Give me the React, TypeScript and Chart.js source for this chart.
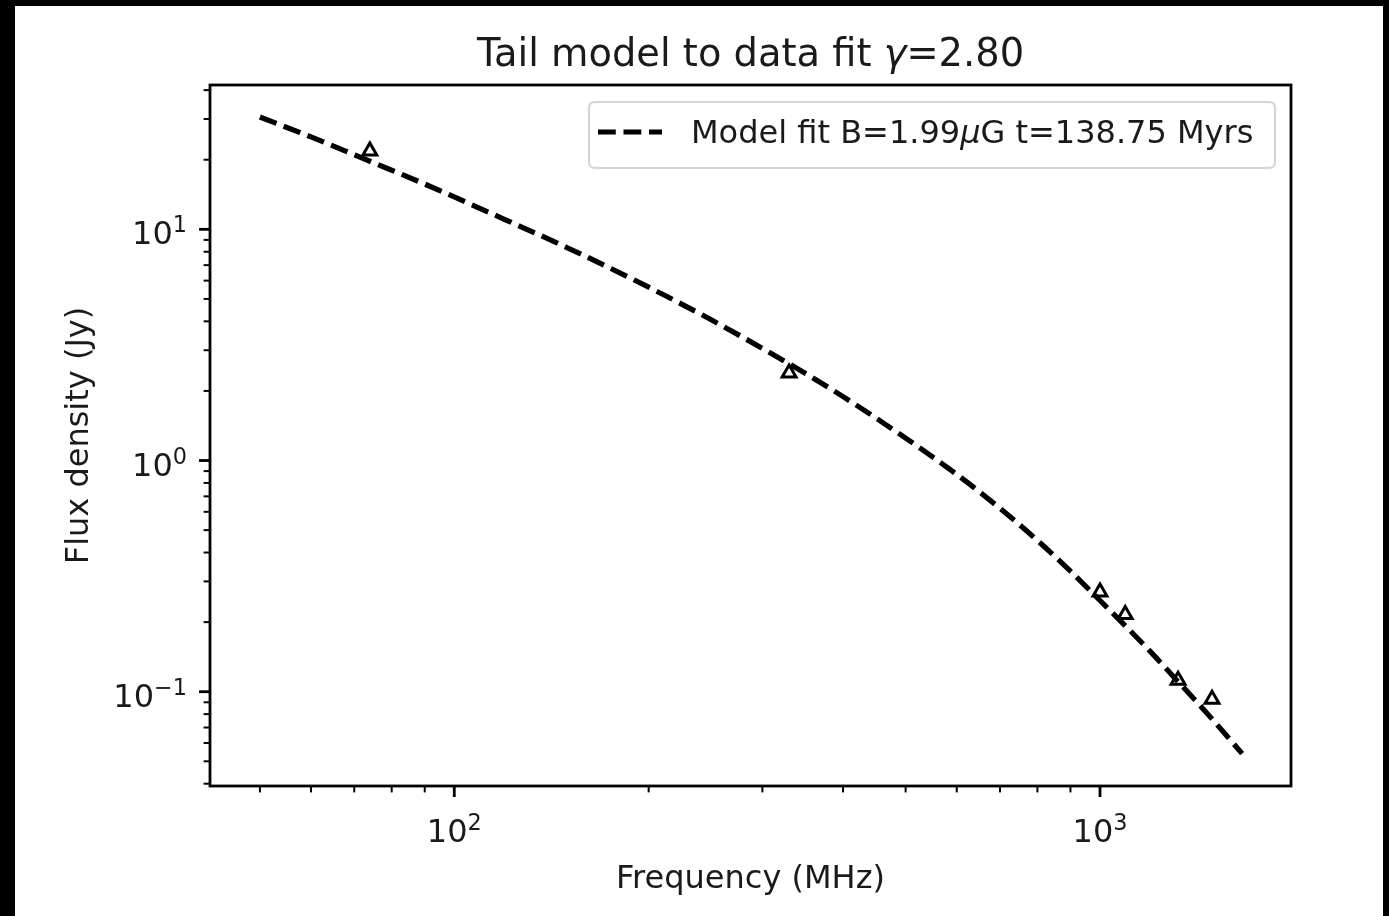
import React, { useEffect, useRef } from 'react';
import { Chart, registerables } from 'chart.js';

Chart.register(...registerables);

// ---- data ----
const modelFreq = [50, 60, 74, 90, 100, 120, 150, 200, 250, 330, 400, 500, 600, 700, 800, 900, 1000, 1100, 1200, 1300, 1400, 1500, 1600, 1660];
const modelFlux = [30.6, 25.1, 19.7, 15.7, 13.8, 11.0, 8.30, 5.62, 4.06, 2.62, 1.89, 1.25, 0.871, 0.621, 0.451, 0.332, 0.248, 0.190, 0.148, 0.116, 0.0927, 0.0748, 0.0608, 0.0540];

const obsFreq = [74, 330, 1000, 1094, 1321, 1491];
const obsFlux = [21.8, 2.39, 0.270, 0.216, 0.112, 0.0928];

const xLimits = [41.85, 1976];
const yLimits = [0.0391, 42.1];

const xMajorTicks = [100, 1000];
const xMinorTicks = [50, 60, 70, 80, 90, 200, 300, 400, 500, 600, 700, 800, 900];
const yMajorTicks = [0.1, 1, 10];
const yMinorTicks = [0.04, 0.05, 0.06, 0.07, 0.08, 0.09, 0.2, 0.3, 0.4, 0.5, 0.6, 0.7, 0.8, 0.9, 2, 3, 4, 5, 6, 7, 8, 9, 20, 30, 40];

const titleParts = [
  { text: 'Tail model to data fit ', italic: false },
  { text: 'γ', italic: true },
  { text: '=2.80', italic: false },
];
const legendParts = [
  { text: 'Model fit B=1.99', italic: false },
  { text: 'μ', italic: true },
  { text: 'G t=138.75 Myrs', italic: false },
];
const xAxisLabel = 'Frequency (MHz)';
const yAxisLabel = 'Flux density (Jy)';

// ---- styling ----
const FONT = "'DejaVu Sans', 'Liberation Sans', sans-serif";
const TEXT = '#1a1a1a';
const LW_LINE = 5.2;
const DASH = [17.8, 7.7];

type Part = { text: string; italic: boolean };

function richWidth(ctx: CanvasRenderingContext2D, parts: Part[], size: number) {
  let w = 0;
  for (const p of parts) {
    ctx.font = `${p.italic ? 'italic ' : ''}${size}px ${FONT}`;
    w += ctx.measureText(p.text).width;
  }
  return w;
}

function drawRich(ctx: CanvasRenderingContext2D, parts: Part[], size: number, x: number, y: number) {
  let cx = x;
  ctx.textAlign = 'left';
  ctx.textBaseline = 'alphabetic';
  for (const p of parts) {
    ctx.font = `${p.italic ? 'italic ' : ''}${size}px ${FONT}`;
    ctx.fillText(p.text, cx, y);
    cx += ctx.measureText(p.text).width;
  }
}

function drawPow(ctx: CanvasRenderingContext2D, value: number, x: number, baseline: number, align: 'center' | 'right') {
  const exp = Math.round(Math.log10(value));
  const base = '10';
  const sup = exp < 0 ? '\u2212' + Math.abs(exp) : String(exp);
  ctx.font = `32px ${FONT}`;
  const wb = ctx.measureText(base).width;
  ctx.font = `22.4px ${FONT}`;
  const ws = ctx.measureText(sup).width;
  const total = wb + ws;
  const start = align === 'center' ? x - total / 2 : x - total;
  ctx.textAlign = 'left';
  ctx.textBaseline = 'alphabetic';
  ctx.font = `32px ${FONT}`;
  ctx.fillText(base, start, baseline);
  ctx.font = `22.4px ${FONT}`;
  ctx.fillText(sup, start + wb, baseline - 12);
}

const decorPlugin = {
  id: 'mplDecor',
  afterDatasetsDraw(chart: any) {
    const ctx: CanvasRenderingContext2D = chart.ctx;
    const { left, right, top, bottom } = chart.chartArea;
    const xs = chart.scales.x;
    const ys = chart.scales.y;
    ctx.save();
    ctx.fillStyle = TEXT;
    ctx.strokeStyle = '#000';

    // spines
    ctx.lineWidth = 2.8;
    ctx.setLineDash([]);
    ctx.strokeRect(left, top, right - left, bottom - top);

    const tick = (x1: number, y1: number, x2: number, y2: number, w: number) => {
      ctx.lineWidth = w;
      ctx.beginPath();
      ctx.moveTo(x1, y1);
      ctx.lineTo(x2, y2);
      ctx.stroke();
    };
    for (const v of xMinorTicks) {
      const px = xs.getPixelForValue(v);
      tick(px, bottom, px, bottom + 6.4, 2);
    }
    for (const v of xMajorTicks) {
      const px = xs.getPixelForValue(v);
      tick(px, bottom, px, bottom + 11, 2.8);
      drawPow(ctx, v, px, bottom + 56, 'center');
    }
    for (const v of yMinorTicks) {
      const py = ys.getPixelForValue(v);
      tick(left, py, left - 6.4, py, 2);
    }
    for (const v of yMajorTicks) {
      const py = ys.getPixelForValue(v);
      tick(left, py, left - 11, py, 2.8);
      drawPow(ctx, v, left - 23, py + 15, 'right');
    }

    // axis labels
    ctx.font = `32px ${FONT}`;
    ctx.textAlign = 'center';
    ctx.textBaseline = 'alphabetic';
    ctx.fillText(xAxisLabel, (left + right) / 2, 882);
    ctx.save();
    ctx.translate(73, (top + bottom) / 2);
    ctx.rotate(-Math.PI / 2);
    ctx.fillText(yAxisLabel, 0, 0);
    ctx.restore();

    // title
    const tw = richWidth(ctx, titleParts, 38.4);
    drawRich(ctx, titleParts, 38.4, (left + right) / 2 - tw / 2, 60);

    // legend
    const bx = 574, by = 96, bw = 686, bh = 66, r = 6;
    ctx.beginPath();
    ctx.moveTo(bx + r, by);
    ctx.lineTo(bx + bw - r, by);
    ctx.quadraticCurveTo(bx + bw, by, bx + bw, by + r);
    ctx.lineTo(bx + bw, by + bh - r);
    ctx.quadraticCurveTo(bx + bw, by + bh, bx + bw - r, by + bh);
    ctx.lineTo(bx + r, by + bh);
    ctx.quadraticCurveTo(bx, by + bh, bx, by + bh - r);
    ctx.lineTo(bx, by + r);
    ctx.quadraticCurveTo(bx, by, bx + r, by);
    ctx.closePath();
    ctx.fillStyle = 'rgba(255,255,255,0.8)';
    ctx.fill();
    ctx.strokeStyle = '#d4d4d4';
    ctx.lineWidth = 2;
    ctx.stroke();

    ctx.strokeStyle = '#000';
    ctx.lineWidth = LW_LINE;
    ctx.lineCap = 'butt';
    ctx.setLineDash(DASH);
    ctx.beginPath();
    ctx.moveTo(583, 126);
    ctx.lineTo(647, 126);
    ctx.stroke();
    ctx.setLineDash([]);

    ctx.fillStyle = TEXT;
    drawRich(ctx, legendParts, 32, 676, 137);

    ctx.restore();
  },
};

export default function App() {
  const canvasRef = useRef<HTMLCanvasElement | null>(null);

  useEffect(() => {
    const canvas = canvasRef.current;
    if (!canvas) return;
    const chart = new Chart(canvas, {
      type: 'scatter',
      data: {
        datasets: [
          {
            label: 'Data',
            data: obsFreq.map((f, i) => ({ x: f, y: obsFlux[i] })),
            showLine: false,
            pointStyle: 'triangle',
            pointRadius: 8,
            borderColor: '#000',
            backgroundColor: 'rgba(0,0,0,0)',
            borderWidth: 3,
            order: 2,
          },
          {
            label: 'Model fit',
            data: modelFreq.map((f, i) => ({ x: f, y: modelFlux[i] })),
            showLine: true,
            borderColor: '#000',
            backgroundColor: '#000',
            borderWidth: LW_LINE,
            borderDash: DASH,
            borderCapStyle: 'butt',
            pointRadius: 0,
            cubicInterpolationMode: 'monotone',
            fill: false,
            order: 1,
          },
        ],
      },
      options: {
        animation: false,
        responsive: false,
        maintainAspectRatio: false,
        events: [],
        layout: { padding: { left: 195, top: 79, right: 92, bottom: 130 } },
        plugins: {
          legend: { display: false },
          title: { display: false },
          tooltip: { enabled: false },
        },
        scales: {
          x: { type: 'logarithmic', min: xLimits[0], max: xLimits[1], display: false },
          y: { type: 'logarithmic', min: yLimits[0], max: yLimits[1], display: false },
        },
      },
      plugins: [decorPlugin],
    } as any);
    return () => chart.destroy();
  }, []);

  return (
    <div style={{ position: 'fixed', left: 0, top: 0, width: 1389, height: 916, background: '#000' }}>
      <canvas
        ref={canvasRef}
        width={1368}
        height={910}
        style={{ position: 'absolute', left: 15, top: 6, width: 1368, height: 910, background: '#fff' }}
      />
    </div>
  );
}
